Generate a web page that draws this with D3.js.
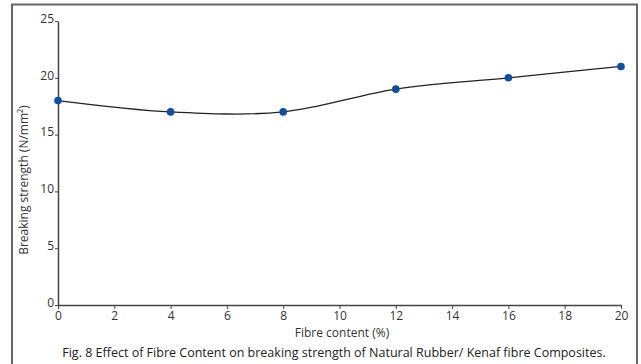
<!DOCTYPE html>
<html>
<head>
<meta charset="utf-8">
<script src="https://cdn.jsdelivr.net/npm/d3@7"></script>
<style>
  body { margin: 0; background: #fff; }
  text { font-family: "Open Sans", "DejaVu Sans", sans-serif; }
</style>
</head>
<body>
<div id="chart"></div>
<script>
// values
const fibreContent = [0, 4, 8, 12, 16, 20]
const breakingStrength = [18, 17, 17, 19, 20, 21]
const xTicks = [0, 2, 4, 6, 8, 10, 12, 14, 16, 18, 20]
const yTicks = [0, 5, 10, 15, 20, 25]

const W = 641, H = 364
const margin = { top: 21, right: 20, bottom: 59, left: 58 },
    width = 621 - margin.left,
    height = 305 - margin.top

const svg = d3.select("#chart")
    .append("svg")
    .attr("width", W)
    .attr("height", H)

// outer frame
svg.append("rect")
    .attr("x", 12).attr("y", 4.5)
    .attr("width", 625).attr("height", 370)
    .attr("fill", "none")
    .attr("stroke", "#666")
    .attr("stroke-width", 2)

const g = svg.append("g")
    .attr("transform", `translate(${margin.left}, ${margin.top})`)

const x = d3.scaleLinear().domain([0, 20]).range([0, width])
const y = d3.scaleLinear().domain([0, 25]).range([height, 0])

const xAxis = g.append("g")
    .attr("transform", `translate(0, ${height})`)
    .call(d3.axisBottom(x).tickValues(xTicks).tickSize(4).tickSizeOuter(0))
const yAxis = g.append("g")
    .call(d3.axisLeft(y).tickValues(yTicks).tickSize(3).tickSizeOuter(0))

for (const ax of [xAxis, yAxis]) {
    ax.select(".domain").attr("stroke", "#444").attr("stroke-width", 1.5)
    ax.selectAll(".tick line").attr("stroke", "#444")
    ax.selectAll(".tick text").attr("fill", "#333").style("font-size", "12px")
}
xAxis.selectAll(".tick text").attr("y", 6)
yAxis.selectAll(".tick text").attr("x", -4).attr("dy", "0.1em")

// the curve
const pts = fibreContent.map((d, i) => [d, breakingStrength[i]])
g.append("path")
    .datum(pts)
    .attr("fill", "none")
    .attr("stroke", "#222")
    .attr("stroke-width", 1.3)
    .attr("d", d3.line().curve(d3.curveCatmullRom.alpha(0.5)).x(d => x(d[0])).y(d => y(d[1])))

g.selectAll(".pt")
    .data(pts)
    .join("circle")
    .attr("class", "pt")
    .attr("cx", d => x(d[0]))
    .attr("cy", d => y(d[1]))
    .attr("r", 3.8)
    .attr("fill", "#0a4fa8")

// axis titles
svg.append("text")
    .text("Fibre content (%)")
    .attr("x", 342).attr("y", 337)
    .attr("text-anchor", "middle")
    .attr("fill", "#333")
    .style("font-size", "12px")

svg.append("text")
    .attr("transform", "translate(28, 180) rotate(-90)")
    .attr("text-anchor", "middle")
    .attr("fill", "#333")
    .style("font-size", "12px")
    .text("Breaking strength (N/mm²)")

// caption
svg.append("text")
    .text("Fig. 8 Effect of Fibre Content on breaking strength of Natural Rubber/ Kenaf fibre Composites.")
    .attr("x", 334).attr("y", 357)
    .attr("text-anchor", "middle")
    .attr("fill", "#222")
    .style("font-size", "12.5px")
</script>
</body>
</html>
